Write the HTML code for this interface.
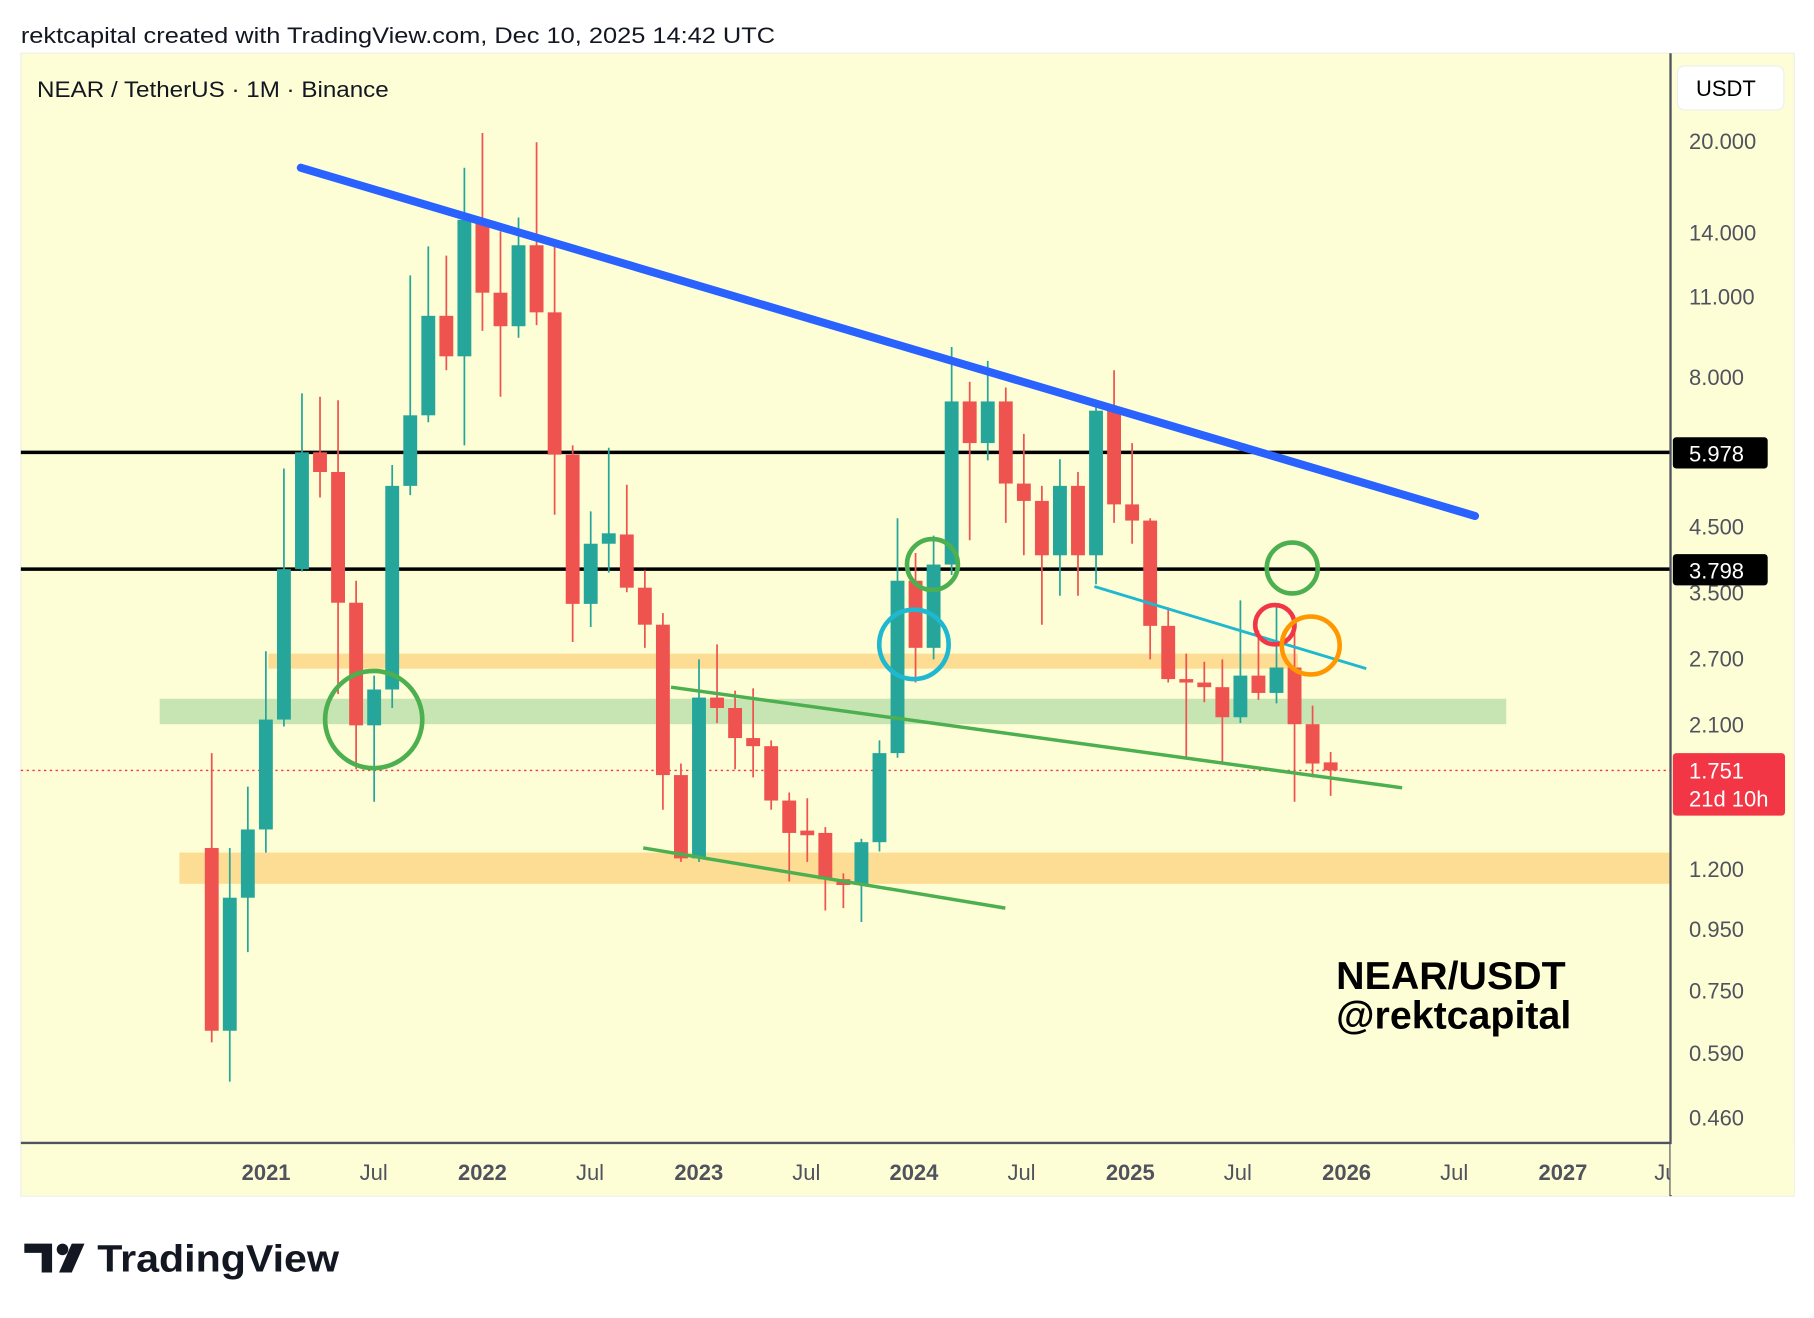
<!DOCTYPE html>
<html><head><meta charset="utf-8"><style>
html,body{margin:0;padding:0;background:#fff;width:1814px;height:1318px;overflow:hidden}
svg{display:block}
text{font-family:"Liberation Sans",sans-serif}
</style></head><body>
<svg width="1814" height="1318" viewBox="0 0 1568 1139.3" xmlns="http://www.w3.org/2000/svg">
<rect width="1568" height="1140" fill="#fff"/>
<text x="18" y="37" font-size="19" fill="#131722" textLength="652" lengthAdjust="spacingAndGlyphs">rektcapital created with TradingView.com, Dec 10, 2025 14:42 UTC</text>
<rect x="18" y="46" width="1533" height="988" fill="#fefed6" stroke="#eeeeea" stroke-width="1"/>
<!-- zones -->
<rect x="232" y="565" width="890" height="13" fill="#fdd98c" opacity="0.9"/>
<rect x="138" y="604" width="1164" height="22" fill="#c4e4b0" opacity="0.95"/>
<rect x="155" y="737" width="1288" height="27" fill="#fdd98c" opacity="0.9"/>
<!-- horizontals -->
<line x1="18" y1="391" x2="1444" y2="391" stroke="#000" stroke-width="3"/>
<line x1="18" y1="492" x2="1444" y2="492" stroke="#000" stroke-width="3"/>
<line x1="18" y1="666" x2="1444" y2="666" stroke="#f23645" stroke-width="1.2" stroke-dasharray="2,3"/>
<!-- wicks -->
<g stroke-width="1.5">
<path stroke="#ef5350" d="M183 651V901M276.6 343V430M292.2 346V600M307.8 502V665M385.8 221V320M417 115V286M432.6 200V343M463.8 123V281M479.4 212V445M495 385V555M541.8 419V512M557.4 493V560M573 530V700M588.6 660V745M619.8 557V625M635.4 597V665M651 595V672M666.6 640V700M682.2 685V762M697.8 690V745M713.4 715V787M729 755V785M791.4 478V590M838.2 330V467M869.4 335V452M885 375V480M900.6 420V540M931.8 408V515M963 320V452M978.6 383V470M994.2 448V570M1009.8 525V590M1025.4 565V655M1041 572V607M1056.6 570V660M1087.8 545V605M1119 540V693M1134.6 610V672M1150.2 650V688"/>
<path stroke="#26a69a" d="M198.6 733V935M214.2 680V823M229.8 563V737M245.4 405V628M261 340V494M323.4 584V693M339 402V612M354.6 238V428M370.2 213V365M401.4 145V385M448.2 188V292M510.6 442V542M526.2 387V495M604.2 570V745M744.6 725V797M760.2 640V736M775.8 448V655M807 463V570M822.6 300V497M853.8 312V398M916.2 397V515M947.4 350V505M1072.2 519V625M1103.4 525V608"/>
</g>
<g fill="#ef5350">
<rect x="177" y="733" width="12" height="158"/><rect x="270.6" y="391" width="12" height="17"/><rect x="286.2" y="408" width="12" height="113"/><rect x="301.8" y="521" width="12" height="106"/><rect x="379.8" y="273" width="12" height="35"/><rect x="411" y="190" width="12" height="63"/><rect x="426.6" y="253" width="12" height="29"/><rect x="457.8" y="212" width="12" height="58"/><rect x="473.4" y="270" width="12" height="123"/><rect x="489" y="393" width="12" height="129"/><rect x="535.8" y="462" width="12" height="46"/><rect x="551.4" y="508" width="12" height="32"/><rect x="567" y="540" width="12" height="130"/><rect x="582.6" y="670" width="12" height="72"/><rect x="613.8" y="603" width="12" height="9"/><rect x="629.4" y="612" width="12" height="26"/><rect x="645" y="638" width="12" height="7"/><rect x="660.6" y="645" width="12" height="47"/><rect x="676.2" y="692" width="12" height="28"/><rect x="691.8" y="718" width="12" height="4"/><rect x="707.4" y="720" width="12" height="40"/><rect x="723" y="760" width="12" height="5"/><rect x="785.4" y="502" width="12" height="58"/><rect x="832.2" y="347" width="12" height="36"/><rect x="863.4" y="347" width="12" height="71"/><rect x="879" y="418" width="12" height="15"/><rect x="894.6" y="433" width="12" height="47"/><rect x="925.8" y="420" width="12" height="60"/><rect x="957" y="355" width="12" height="81"/><rect x="972.6" y="436" width="12" height="14"/><rect x="988.2" y="450" width="12" height="91"/><rect x="1003.8" y="541" width="12" height="46"/><rect x="1019.4" y="587" width="12" height="3"/><rect x="1035" y="590" width="12" height="4"/><rect x="1050.6" y="594" width="12" height="26"/><rect x="1081.8" y="584" width="12" height="15"/><rect x="1113" y="577" width="12" height="49"/><rect x="1128.6" y="626" width="12" height="34"/><rect x="1144.2" y="659" width="12" height="7"/>
</g>
<g fill="#26a69a">
<rect x="192.6" y="776" width="12" height="115"/><rect x="208.2" y="717" width="12" height="59"/><rect x="223.8" y="622" width="12" height="95"/><rect x="239.4" y="492" width="12" height="130"/><rect x="255" y="391" width="12" height="101"/><rect x="317.4" y="596" width="12" height="31"/><rect x="333" y="420" width="12" height="176"/><rect x="348.6" y="359" width="12" height="61"/><rect x="364.2" y="273" width="12" height="86"/><rect x="395.4" y="190" width="12" height="118"/><rect x="442.2" y="212" width="12" height="70"/><rect x="504.6" y="470" width="12" height="52"/><rect x="520.2" y="461" width="12" height="9"/><rect x="598.2" y="603" width="12" height="139"/><rect x="738.6" y="728" width="12" height="37"/><rect x="754.2" y="651" width="12" height="77"/><rect x="769.8" y="502" width="12" height="149"/><rect x="801" y="488" width="12" height="72"/><rect x="816.6" y="347" width="12" height="141"/><rect x="847.8" y="347" width="12" height="36"/><rect x="910.2" y="420" width="12" height="60"/><rect x="941.4" y="355" width="12" height="125"/><rect x="1066.2" y="584" width="12" height="36"/><rect x="1097.4" y="577" width="12" height="22"/>
</g>
<!-- trendlines -->
<line x1="260" y1="145" x2="1275" y2="446" stroke="#2962ff" stroke-width="7" stroke-linecap="round"/>
<line x1="580" y1="594" x2="1212" y2="681" stroke="#4caf50" stroke-width="3"/>
<line x1="556" y1="733" x2="869" y2="785" stroke="#4caf50" stroke-width="3"/>
<line x1="946" y1="507" x2="1181" y2="578" stroke="#1fb8d0" stroke-width="2.5"/>
<g fill="none" stroke-width="4">
<circle cx="323" cy="622" r="42" stroke="#4caf50"/>
<circle cx="806" cy="488" r="22" stroke="#4caf50"/>
<circle cx="790" cy="557" r="30" stroke="#1fb8d0"/>
<circle cx="1117" cy="491" r="22" stroke="#4caf50"/>
<circle cx="1102" cy="540" r="17" stroke="#f23645"/>
<circle cx="1133" cy="558" r="25" stroke="#ff9800"/>
</g>
<text x="32" y="84" font-size="19" fill="#131722" textLength="304" lengthAdjust="spacingAndGlyphs">NEAR / TetherUS · 1M · Binance</text>
<text x="1155" y="855" font-size="34" font-weight="bold" fill="#000">NEAR/USDT</text>
<text x="1155" y="889" font-size="34" font-weight="bold" fill="#000">@rektcapital</text>
<!-- axes -->
<line x1="1444" y1="46" x2="1444" y2="1034" stroke="#50535e" stroke-width="2"/>
<line x1="18" y1="988" x2="1444" y2="988" stroke="#50535e" stroke-width="2"/>
<rect x="1450" y="57" width="92" height="38" rx="6" fill="#fff" stroke="#eee"/>
<text x="1466" y="83" font-size="19" fill="#000">USDT</text>
<g font-size="19" fill="#50535e">
<text x="1460" y="129">20.000</text><text x="1460" y="208">14.000</text><text x="1460" y="263">11.000</text><text x="1460" y="333">8.000</text><text x="1460" y="462">4.500</text><text x="1460" y="519">3.500</text><text x="1460" y="576">2.700</text><text x="1460" y="633">2.100</text><text x="1460" y="758">1.200</text><text x="1460" y="810">0.950</text><text x="1460" y="863">0.750</text><text x="1460" y="917">0.590</text><text x="1460" y="973">0.460</text>
</g>
<rect x="1446" y="378" width="82" height="27" rx="3" fill="#000"/><text x="1460" y="399" font-size="19" fill="#fff">5.978</text>
<rect x="1446" y="479" width="82" height="27" rx="3" fill="#000"/><text x="1460" y="500" font-size="19" fill="#fff">3.798</text>
<rect x="1446" y="651" width="97" height="54" rx="3" fill="#f23645"/><text x="1460" y="673" font-size="19" fill="#fff">1.751</text><text x="1460" y="697" font-size="19" fill="#fff">21d 10h</text>
<g font-size="19" fill="#50535e" text-anchor="middle">
<text x="230" y="1020" font-weight="bold">2021</text><text x="323" y="1020">Jul</text><text x="417" y="1020" font-weight="bold">2022</text><text x="510" y="1020">Jul</text><text x="604" y="1020" font-weight="bold">2023</text><text x="697" y="1020">Jul</text><text x="790" y="1020" font-weight="bold">2024</text><text x="883" y="1020">Jul</text><text x="977" y="1020" font-weight="bold">2025</text><text x="1070" y="1020">Jul</text><text x="1164" y="1020" font-weight="bold">2026</text><text x="1257" y="1020">Jul</text><text x="1351" y="1020" font-weight="bold">2027</text>
</g>
<text x="1430" y="1020" font-size="19" fill="#50535e">Ju</text>
<rect x="1444" y="989" width="107" height="44" fill="#fefed6"/>
<!-- logo -->
<g fill="#131722">
<path d="M21 1075H45V1100H36V1083H21Z"/>
<circle cx="54" cy="1080" r="5"/>
<path d="M62 1075H73L62 1100H51Z"/>
</g>
<text x="84" y="1099" font-size="33" font-weight="bold" fill="#131722" textLength="209" lengthAdjust="spacingAndGlyphs">TradingView</text>
</svg>
</body></html>
